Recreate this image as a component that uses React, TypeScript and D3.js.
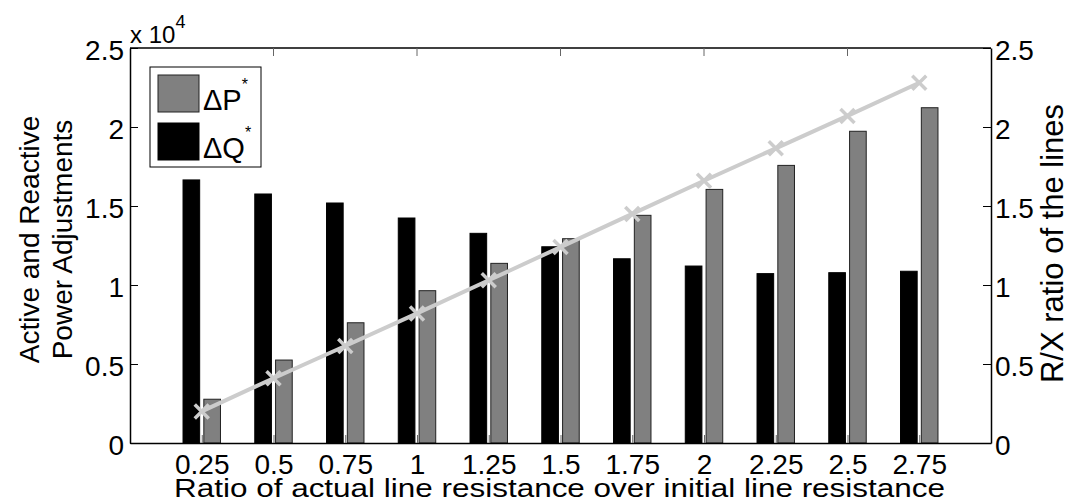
import React, { useEffect, useRef } from "react";
import * as d3 from "d3";

// values
const categories = ["0.25", "0.5", "0.75", "1", "1.25", "1.5", "1.75", "2", "2.25", "2.5", "2.75"];
const deltaQ = [16650, 15760, 15190, 14240, 13270, 12420, 11660, 11200, 10720, 10780, 10870];
const deltaP = [2770, 5250, 7610, 9640, 11370, 12930, 14410, 16050, 17570, 19730, 21220];
const rxRatio = [0.2, 0.41, 0.614, 0.82, 1.03, 1.24, 1.45, 1.66, 1.865, 2.07, 2.28];
const leftTicks = [0, 5000, 10000, 15000, 20000, 25000];
const leftTickLabels = ["0", "0.5", "1", "1.5", "2", "2.5"];
const rightTicks = [0, 0.5, 1, 1.5, 2, 2.5];
const rightTickLabels = ["0", "0.5", "1", "1.5", "2", "2.5"];
const topTicks = [2, 4, 6, 8, 10];

const FONT = "'Liberation Sans', Arial, Helvetica, sans-serif";

function drawChart(container: SVGSVGElement) {
  var width = 1070,
    height = 504;
  var left = 130,
    right = 991,
    top = 48,
    bottom = 443;

  var barColorP = "#808080",
    barColorQ = "#000000",
    lineColor = "#cccccc";

  var svg = d3.select(container);
  svg.selectAll("*").remove();
  svg.attr("width", width).attr("height", height);

  var x = d3.scaleLinear().domain([0, 12]).range([left, right]);
  var yL = d3.scaleLinear().domain([0, 25000]).range([bottom, top]);
  var yR = d3.scaleLinear().domain([0, 2.5]).range([bottom, top]);

  var barW = 0.232,
    offset = 0.145;

  // ΔQ bars (black, left of center)
  svg
    .append("g")
    .selectAll("rect")
    .data(deltaQ)
    .enter()
    .append("rect")
    .attr("x", (d, i) => x(i + 1 - offset - barW / 2))
    .attr("y", (d) => yL(d))
    .attr("width", x(barW) - x(0))
    .attr("height", (d) => yL(0) - yL(d))
    .style("fill", barColorQ)
    .style("stroke", "#000")
    .style("stroke-width", "1px");

  // ΔP bars (grey, right of center)
  svg
    .append("g")
    .selectAll("rect")
    .data(deltaP)
    .enter()
    .append("rect")
    .attr("x", (d, i) => x(i + 1 + offset - barW / 2))
    .attr("y", (d) => yL(d))
    .attr("width", x(barW) - x(0))
    .attr("height", (d) => yL(0) - yL(d))
    .style("fill", barColorP)
    .style("stroke", "#222")
    .style("stroke-width", "1px");

  // bottom ticks (inside)
  var xAxis = d3
    .axisBottom(x)
    .tickValues(d3.range(1, 12))
    .tickFormat((d, i) => categories[i])
    .tickSizeInner(-8)
    .tickSizeOuter(0)
    .tickPadding(11);

  var gx = svg
    .append("g")
    .attr("transform", "translate(0," + bottom + ")")
    .call(xAxis);
  gx.select("path").style("stroke", "#000").style("stroke-width", "1.5px");
  gx.selectAll(".tick line").style("stroke", "#666").style("stroke-width", "1px");
  gx.selectAll(".tick text")
    .style("font-family", FONT)
    .style("font-size", "28px")
    .style("fill", "#000");

  // R/X line with x markers
  var line = d3
    .line<number>()
    .x((d, i) => x(i + 1))
    .y((d) => yR(d));

  svg
    .append("path")
    .datum(rxRatio)
    .attr("d", line)
    .style("fill", "none")
    .style("stroke", lineColor)
    .style("stroke-width", "4px");

  var m = 7;
  svg
    .append("g")
    .selectAll("path")
    .data(rxRatio)
    .enter()
    .append("path")
    .attr("d", (d, i) => {
      var cx = x(i + 1),
        cy = yR(d);
      return (
        "M" + (cx - m) + "," + (cy - m) + "L" + (cx + m) + "," + (cy + m) +
        "M" + (cx - m) + "," + (cy + m) + "L" + (cx + m) + "," + (cy - m)
      );
    })
    .style("stroke", lineColor)
    .style("stroke-width", "3.5px");

  // top border + ticks
  svg
    .append("line")
    .attr("x1", left)
    .attr("x2", right)
    .attr("y1", top)
    .attr("y2", top)
    .style("stroke", "#000")
    .style("stroke-width", "1.5px");
  svg
    .append("g")
    .selectAll("line")
    .data(topTicks)
    .enter()
    .append("line")
    .attr("x1", (d) => x(d))
    .attr("x2", (d) => x(d))
    .attr("y1", top)
    .attr("y2", top + 8)
    .style("stroke", "#666")
    .style("stroke-width", "1px");

  // left axis
  var yAxisL = d3
    .axisLeft(yL)
    .tickValues(leftTicks)
    .tickFormat((d, i) => leftTickLabels[i])
    .tickSizeInner(-8)
    .tickSizeOuter(0)
    .tickPadding(6);
  var gl = svg
    .append("g")
    .attr("transform", "translate(" + left + ",0)")
    .call(yAxisL);
  gl.select("path").style("stroke", "#000").style("stroke-width", "1.5px");
  gl.selectAll(".tick line").style("stroke", "#000");
  gl.selectAll(".tick text")
    .attr("dy", "0.42em")
    .style("font-family", FONT)
    .style("font-size", "28px")
    .style("fill", "#000");

  // right axis
  var yAxisR = d3
    .axisRight(yR)
    .tickValues(rightTicks)
    .tickFormat((d, i) => rightTickLabels[i])
    .tickSizeInner(-8)
    .tickSizeOuter(0)
    .tickPadding(4);
  var gr = svg
    .append("g")
    .attr("transform", "translate(" + right + ",0)")
    .call(yAxisR);
  gr.select("path").style("stroke", "#000").style("stroke-width", "1.5px");
  gr.selectAll(".tick line").style("stroke", "#000");
  gr.selectAll(".tick text")
    .attr("dy", "0.42em")
    .style("font-family", FONT)
    .style("font-size", "28px")
    .style("fill", "#000");

  // exponent label
  var expo = svg
    .append("text")
    .attr("x", left)
    .attr("y", 43)
    .style("font-family", FONT)
    .style("font-size", "24px")
    .style("fill", "#000");
  expo.append("tspan").text("x 10");
  expo.append("tspan").attr("dy", -15).style("font-size", "18px").text("4");

  // axis titles
  var ty = (top + bottom) / 2 - 6;
  svg
    .append("text")
    .attr("transform", "translate(39," + ty + ") rotate(-90)")
    .attr("text-anchor", "middle")
    .style("font-family", FONT)
    .style("font-size", "28px")
    .text("Active and Reactive");
  svg
    .append("text")
    .attr("transform", "translate(72," + ty + ") rotate(-90)")
    .attr("text-anchor", "middle")
    .style("font-family", FONT)
    .style("font-size", "28px")
    .text("Power Adjustments");
  svg
    .append("text")
    .attr("transform", "translate(1063," + ((top + bottom) / 2 - 2) + ") rotate(-90)")
    .attr("text-anchor", "middle")
    .style("font-family", FONT)
    .style("font-size", "31px")
    .text("R/X ratio of the lines");
  svg
    .append("text")
    .attr("x", 174)
    .attr("y", 497)
    .attr("textLength", 771)
    .attr("lengthAdjust", "spacingAndGlyphs")
    .style("font-family", FONT)
    .style("font-size", "25px")
    .text("Ratio of actual line resistance over initial line resistance");

  // legend
  var lg = svg.append("g");
  lg.append("rect")
    .attr("x", 150)
    .attr("y", 67)
    .attr("width", 111)
    .attr("height", 100)
    .style("fill", "#fff")
    .style("stroke", "#000")
    .style("stroke-width", "1px");
  var entries = [
    { label: "ΔP", color: barColorP, stroke: "#222", y: 75 },
    { label: "ΔQ", color: barColorQ, stroke: "#000", y: 123 }
  ];
  entries.forEach((e) => {
    lg.append("rect")
      .attr("x", 158)
      .attr("y", e.y)
      .attr("width", 41)
      .attr("height", 37)
      .style("fill", e.color)
      .style("stroke", e.stroke)
      .style("stroke-width", "1px");
    var t = lg
      .append("text")
      .attr("x", 203)
      .attr("y", e.y + 35)
      .style("font-family", FONT)
      .style("font-size", "29px")
      .style("fill", "#000");
    t.append("tspan").text(e.label);
    t.append("tspan").attr("dy", -20).style("font-size", "16px").text("*");
  });
}

export default function App() {
  const ref = useRef<SVGSVGElement>(null);
  useEffect(() => {
    if (ref.current) drawChart(ref.current);
  }, []);
  return (
    <svg
      ref={ref}
      style={{ position: "absolute", left: 0, top: 0, background: "#fff" }}
    />
  );
}
